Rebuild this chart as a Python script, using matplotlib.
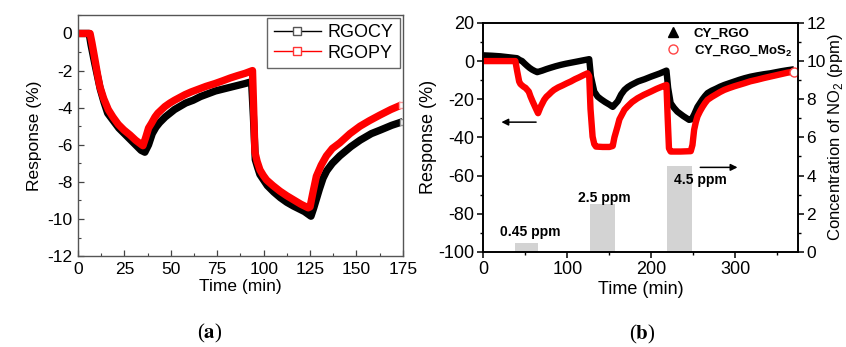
import matplotlib
matplotlib.use("Agg")
import matplotlib.pyplot as plt
from matplotlib.lines import Line2D
from matplotlib.ticker import MultipleLocator

plt.rcParams['font.family'] = ['Liberation Sans', 'DejaVu Sans']
plt.rcParams['axes.unicode_minus'] = False
plt.rcParams['mathtext.fontset'] = 'custom'
plt.rcParams['mathtext.rm'] = 'Liberation Sans'
plt.rcParams['mathtext.bf'] = 'Liberation Sans:bold'

# ---- panel (a) data: response (%) vs time (min)
t_cy = [0, 6, 7, 9, 10.5, 12, 14, 16, 19, 22, 25, 28, 31, 34, 36, 38, 40, 42, 44, 47,
        49.5, 52, 58, 62, 66, 70, 74, 78, 82, 86, 90, 93.5, 94.5, 95.5, 96.7, 98, 100,
        102, 105.5, 109, 112.5, 116, 122, 125.5, 127, 130, 132, 134, 137, 141, 147, 152,
        158, 163, 169, 175]
r_cy = [0, 0, -0.6, -1.6, -2.3, -3.0, -3.7, -4.3, -4.7, -5.1, -5.4, -5.7, -6.0, -6.3,
        -6.4, -6.0, -5.4, -5.05, -4.8, -4.5, -4.3, -4.1, -3.75, -3.6, -3.4, -3.25, -3.1,
        -3.0, -2.9, -2.8, -2.7, -2.6, -4.5, -6.8, -7.2, -7.6, -7.9, -8.2, -8.55, -8.85,
        -9.1, -9.3, -9.6, -9.85, -9.4, -8.4, -7.8, -7.4, -7.0, -6.6, -6.1, -5.75, -5.4,
        -5.2, -4.95, -4.75]
t_py = [0, 6.5, 7.5, 9.2, 10.5, 11.8, 13.8, 16.3, 18.8, 21.7, 24.7, 28, 31, 34.3, 35,
        36.5, 38, 39.6, 41.5, 43, 46.8, 49.5, 52, 57.6, 61, 65, 69, 73.8, 78, 82, 86, 90,
        94, 94.6, 95.3, 96.5, 98, 99.8, 101.6, 105, 108.8, 112.5, 116, 120, 124, 125,
        126.5, 128.4, 131, 133.8, 137, 141, 146.5, 151.9, 157, 162.6, 168.5, 174.3]
r_py = [0, 0, -0.5, -1.45, -2.2, -2.87, -3.5, -4.1, -4.5, -4.9, -5.2, -5.47, -5.75, -6.0,
        -6.05, -5.6, -5.1, -4.84, -4.5, -4.3, -3.94, -3.75, -3.6, -3.3, -3.15, -3.0, -2.85,
        -2.7, -2.55, -2.4, -2.27, -2.15, -2.0, -4.0, -6.4, -6.9, -7.35, -7.65, -7.9, -8.2,
        -8.5, -8.75, -8.96, -9.2, -9.4, -9.35, -8.6, -7.7, -7.1, -6.6, -6.2, -5.9, -5.4,
        -5.0, -4.7, -4.4, -4.1, -3.85]

# ---- panel (b) data
t_rgo = [0, 10, 20, 30, 40, 43, 46, 49, 52, 55, 58, 61, 64, 67, 70, 75, 80, 86, 92, 98,
         105, 112, 120, 126, 128, 132, 136, 140, 145, 150, 154, 160, 164, 168, 172, 176,
         184, 192, 200, 210, 218, 220, 223, 227, 231, 238, 245, 248, 251, 255, 258, 261,
         264, 267, 272, 277, 282, 287, 293, 299, 305, 311, 318, 326, 334, 342, 349, 355,
         362, 370]
r_rgo = [3, 2.8, 2.5, 2, 1.5, 0.6, 0, -1.3, -2.5, -3.6, -4.5, -5.2, -5.8, -5.4, -5, -4.2,
         -3.5, -2.7, -2, -1.4, -0.8, -0.2, 0.5, 1, -8, -16, -18.6, -20, -21.5, -22.8, -24,
         -21, -17.5, -15.1, -13.6, -12.5, -10.7, -9.5, -8.1, -6.5, -5, -14, -22, -24.5,
         -26.5, -28.8, -30.8, -30.5, -28, -24, -22, -20, -18.3, -16.8, -15.5, -14.5, -13.4,
         -12.5, -11.6, -10.7, -9.8, -9, -8.2, -7.5, -6.9, -6.4, -5.8, -5.3, -4.8, -4.3]
t_mos = [0, 38, 40, 42.5, 44, 46, 48, 50, 52, 54, 56, 58.4, 62, 65, 68, 72.3, 75, 78, 81,
         84, 89, 94, 99, 104, 109, 114, 119, 124, 126, 127.5, 130, 132, 134, 142, 150, 154,
         156, 159.7, 162, 165, 168, 171.6, 177, 183.5, 191, 199.4, 206, 212, 218, 219.5,
         221, 223, 235, 247, 249, 251, 253, 255, 258, 261, 264, 267, 272, 277, 282, 287,
         293, 299, 305, 311, 318, 326, 334, 342, 349, 355, 362, 370]
r_mos = [0, 0, -5, -10.7, -12, -12.8, -13.5, -14, -15, -16, -18.5, -21, -24.5, -27.3, -24,
         -20.3, -18.7, -17.5, -16.2, -15.1, -13.8, -12.8, -11.7, -10.7, -9.5, -8.5, -7.4,
         -6.4, -8, -25, -39.6, -43.5, -44.8, -45, -45, -44.5, -40, -34.3, -30.5, -28, -25.5,
         -23.8, -21.5, -19.5, -17.7, -16, -14.6, -13.5, -12.5, -30, -45.7, -47.4, -47.4,
         -47.2, -44, -36, -32, -29, -26.3, -24, -22, -20.3, -18.8, -17.5, -16.2, -15.1,
         -14.1, -13.2, -12.4, -11.6, -10.6, -9.8, -8.9, -8.1, -7.4, -6.8, -6.1, -5.5]

pulse_start = [37, 127, 219]
pulse_end = [65, 157, 249]
pulse_conc = [0.45, 2.5, 4.5]
pulse_labels = ['0.45 ppm', '2.5 ppm', '4.5 ppm']
label_x = [56, 144, 259]
label_y = [-89.4, -71.7, -62.3]

fig = plt.figure(figsize=(8.46, 3.47), dpi=100)

# ================= panel (a)
ax = fig.add_axes([0.0922, 0.262, 0.384, 0.695])
ax.plot(t_cy, r_cy, color='black', lw=5.3, solid_capstyle='butt',
        marker='s', ms=5, mfc='white', mec='#999999', markevery=[-1])
ax.plot(t_py, r_py, color='#ff0000', lw=5.3, solid_capstyle='butt',
        marker='s', ms=5, mfc='white', mec='#ff9999', markevery=[-1])
ax.set_xlim(0, 175)
ax.set_ylim(-12, 1)
ax.xaxis.set_major_locator(MultipleLocator(25))
ax.xaxis.set_minor_locator(MultipleLocator(12.5))
ax.yaxis.set_major_locator(MultipleLocator(2))
ax.yaxis.set_minor_locator(MultipleLocator(1))
ax.tick_params(which='both', direction='in', labelsize=12.5, color='#444444', pad=4)
ax.tick_params(which='major', length=4.5, width=0.9)
ax.tick_params(which='minor', length=2.5, width=0.8)
for s in ax.spines.values():
    s.set_color('#555555')
    s.set_linewidth(1.0)
ax.set_xlabel('Time (min)', fontsize=12.5, labelpad=2)
ax.set_ylabel('Response (%)', fontsize=12.5, labelpad=4)
handles = [Line2D([], [], color='black', lw=1, marker='s', ms=6, mfc='white', mec='#555555'),
           Line2D([], [], color='#ff0000', lw=1, marker='s', ms=6, mfc='white', mec='#ff3333')]
leg = ax.legend(handles, ['RGOCY', 'RGOPY'], loc='upper right', fontsize=13,
                fancybox=False, framealpha=1, edgecolor='#666666', handlelength=2.6,
                borderaxespad=0.15, borderpad=0.35, labelspacing=0.2, handletextpad=0.4)
leg.get_frame().set_linewidth(1.0)

# ================= panel (b)
bx = fig.add_axes([0.5715, 0.274, 0.372, 0.660])
bx2 = bx.twinx()
widths = [e - s for s, e in zip(pulse_start, pulse_end)]
bx2.bar(pulse_start, pulse_conc, width=widths, align='edge', color='#d3d3d3', zorder=1)
bx2.set_ylim(0, 12)
bx2.yaxis.set_major_locator(MultipleLocator(2))
bx2.yaxis.set_minor_locator(MultipleLocator(1))

bx.set_zorder(bx2.get_zorder() + 1)
bx.patch.set_visible(False)
bx.plot(t_rgo, r_rgo, color='black', lw=4.6, solid_capstyle='butt')
bx.plot(t_mos, r_mos, color='#ff0000', lw=4.6, solid_capstyle='butt',
        marker='o', ms=6.5, mfc='white', mec='#ff4444', markevery=[-1])
bx.set_xlim(0, 375)
bx.set_ylim(-100, 20)
bx.xaxis.set_major_locator(MultipleLocator(100))
bx.xaxis.set_minor_locator(MultipleLocator(50))
bx.yaxis.set_major_locator(MultipleLocator(20))
bx.yaxis.set_minor_locator(MultipleLocator(10))
for a in (bx, bx2):
    a.tick_params(which='both', direction='out', labelsize=13, pad=2)
    a.tick_params(which='major', length=4.5, width=1.1)
    a.tick_params(which='minor', length=2.5, width=1.0)
    for s in a.spines.values():
        s.set_linewidth(1.2)
bx2.tick_params(labelsize=12.5, pad=1.5)
bx.set_xlabel('Time (min)', fontsize=13, labelpad=2)
bx.set_ylabel('Response (%)', fontsize=13, labelpad=1)
bx2.set_ylabel('Concentration of NO$_2$ (ppm)', fontsize=12, labelpad=0)

for x, y, s in zip(label_x, label_y, pulse_labels):
    bx.text(x, y, s, fontsize=10, fontweight='bold', ha='center', va='center', zorder=5)

bx.annotate('', xy=(18, -32), xytext=(66, -32),
            arrowprops=dict(arrowstyle='-|>', color='black', lw=1.1, mutation_scale=10))
bx.annotate('', xy=(306, -55.7), xytext=(255, -55.7),
            arrowprops=dict(arrowstyle='-|>', color='black', lw=1.1, mutation_scale=10))

hb = [Line2D([], [], ls='none', marker='^', ms=6.5, color='black'),
      Line2D([], [], ls='none', marker='o', ms=6.5, mfc='white', mec='#ff4444')]
bx.legend(hb, ['CY_RGO', r'CY_RGO_MoS$_\mathbf{2}$'], loc='upper right',
          bbox_to_anchor=(1.01, 1.02), frameon=False, prop={'weight': 'bold', 'size': 9.5},
          handletextpad=0.6, labelspacing=0.3, borderaxespad=0.3)

# captions
fig.text(210 / 846, 1 - 333 / 347, r'($\mathbf{a}$)', fontsize=15, ha='center', va='center',
         family=['Liberation Serif'], math_fontfamily='stix')
fig.text(642 / 846, 1 - 334 / 347, r'($\mathbf{b}$)', fontsize=15, ha='center', va='center',
         family=['Liberation Serif'], math_fontfamily='stix')

fig.savefig('out.png', dpi=100)
